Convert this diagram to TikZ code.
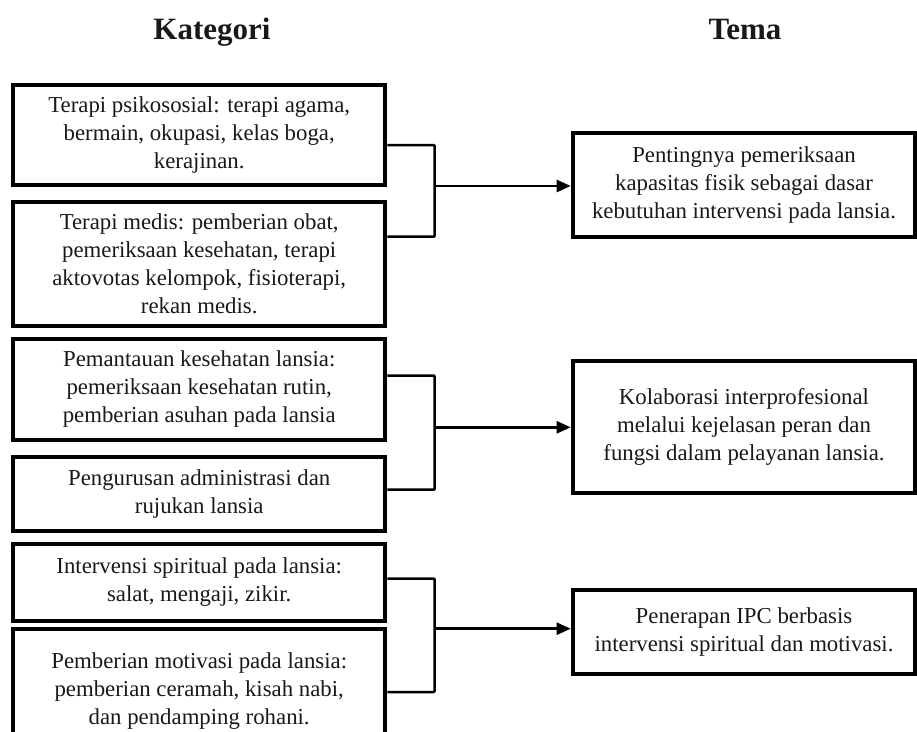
\documentclass[tikz,border=0pt]{standalone}
\usepackage{fontspec}
\setmainfont{Liberation Serif}
\usetikzlibrary{arrows.meta}
\begin{document}
\begin{tikzpicture}[x=1pt,y=-1pt,
  boxbase/.style={draw=black, line width=4pt, align=center, inner sep=0pt,
    text=black!90, font=\fontsize{22.8}{28}\selectfont},
  cat/.style={boxbase, minimum width=372.5pt},
  theme/.style={boxbase, minimum width=342.6pt},
  conn/.style={line width=2.5pt, rounded corners=1pt},
  arr/.style={line width=2.5pt, -{Triangle[length=14pt,width=12pt]}},
  titlefont/.style={font=\fontsize{31}{36}\selectfont\bfseries, text=black!90, inner sep=0pt}]
\useasboundingbox (0,0) rectangle (917,731);
\clip (0,0) rectangle (917,731);
\fill[white] (0,0) rectangle (917,731);

% titles
\node[titlefont, anchor=base] (tk) at (212,39) {Kategori};
\node[titlefont, anchor=base] (tt) at (745,39) {Tema};

% category boxes
\node[cat, minimum height=100pt]   (b1) at (199.2,135.3) {Terapi psikososial: terapi agama,\\ bermain, okupasi, kelas boga,\\ kerajinan.};
\node[cat, minimum height=124.3pt] (b2) at (199.2,264.2) {Terapi medis: pemberian obat,\\ pemeriksaan kesehatan, terapi\\ aktovotas kelompok, fisioterapi,\\ rekan medis.};
\node[cat, minimum height=101.6pt] (b3) at (199.2,389.5) {Pemantauan kesehatan lansia:\\ pemeriksaan kesehatan rutin,\\ pemberian asuhan pada lansia};
\node[cat, minimum height=74.3pt]  (b4) at (199.2,494.2) {Pengurusan administrasi dan\\ rujukan lansia};
\node[cat, minimum height=77.3pt]  (b5) at (199.2,582.4) {Intervensi spiritual pada lansia:\\ salat, mengaji, zikir.};
\node[cat, minimum height=122.7pt] (b6) at (199.2,690.6) {Pemberian motivasi pada lansia:\\ pemberian ceramah, kisah nabi,\\ dan pendamping rohani.};

% theme boxes
\node[theme, minimum height=104.3pt] (r1) at (744,184.9) {Pentingnya pemeriksaan\\ kapasitas fisik sebagai dasar\\ kebutuhan intervensi pada lansia.};
\node[theme, minimum height=131.4pt] (r2) at (744,427) {Kolaborasi interprofesional\\ melalui kejelasan peran dan\\ fungsi dalam pelayanan lansia.};
\node[theme, minimum height=84pt]    (r3) at (744,631.7) {Penerapan IPC berbasis\\ intervensi spiritual dan motivasi.};

% bracket junctions
\coordinate (j1) at (434.7,186);
\coordinate (t1) at (0,145);
\coordinate (u1) at (0,236.7);
\coordinate (j2) at (434.7,427.3);
\coordinate (t2) at (0,375.7);
\coordinate (u2) at (0,489.7);
\coordinate (j3) at (434.7,628.7);
\coordinate (t3) at (0,578.7);
\coordinate (u3) at (0,692);

\draw[conn] (b1.east |- t1) -| (j1) |- (b2.east |- u1);
\draw[conn] (b3.east |- t2) -| (j2) |- (b4.east |- u2);
\draw[conn] (b5.east |- t3) -| (j3) |- (b6.east |- u3);

\draw[arr] (j1) -- (r1.west |- j1);
\draw[arr] (j2) -- (r2.west |- j2);
\draw[arr] (j3) -- (r3.west |- j3);
\end{tikzpicture}
\end{document}
